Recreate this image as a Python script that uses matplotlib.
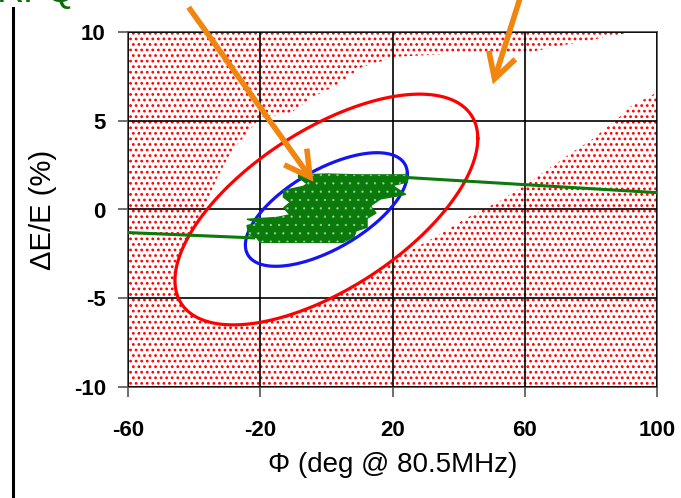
import numpy as np
import matplotlib
matplotlib.use('Agg')
import matplotlib.pyplot as plt
from matplotlib.patches import Rectangle, Polygon, FancyArrowPatch
from matplotlib.lines import Line2D

plt.rcParams['axes.unicode_minus'] = False

# axis ticks
phi_ticks = [-60, -20, 20, 60, 100]
dE_ticks = [-10, -5, 0, 5, 10]

# acceptance (separatrix) band: the white region outside the red ellipse
sep_upper_phi = [-40, -36, -33, -29, -24, -20, -11, -4.5, 3, 10.5, 21, 40, 60, 70, 90, 92]
sep_upper_dE = [-1.0, 0.5, 1.8, 3.2, 4.3, 5.2, 5.4, 6.3, 7.0, 8.0, 8.6, 8.8, 8.8, 9.2, 9.9, 10.0]
sep_lower_phi = [20.3, 25.5, 32.4, 42.7, 52.7, 61, 75, 80, 88, 92, 100]
sep_lower_dE = [-2.7, -2.3, -1.6, -0.45, 0.5, 1.5, 3.3, 3.9, 5.1, 5.8, 6.6]

# ellipses: [phi max, dE max, dE at phi max]
red_ellipse = [45.8, 6.5, 4.0]
blue_ellipse = [24.5, 3.2, 2.0]

# green beam core outline
core_phi = [-8.4, 0, 10, 24.5, 24.5, 20, 24, 16.4, 13.3, 15, 12.3, 12.3, 9, 8.3, 5,
            -20, -21, -23.5, -24, -20, -24, -15, -11, -12.9, -10.9, -13, -12.9, -7, -5.8, -8.4]
core_dE = [1.95, 2.0, 1.95, 1.95, 1.55, 1.35, 0.85, 0.6, 0.2, -0.2, -0.5, -1.0, -1.2, -1.55, -1.85,
           -1.85, -1.6, -1.4, -0.9, -0.75, -0.55, -0.45, -0.3, 0.1, 0.4, 0.7, 1.07, 1.3, 1.45, 1.8]
# green tails
tail_left_phi = [-60, -22]
tail_left_dE = [-1.3, -1.6]
tail_right_phi = [24.5, 100]
tail_right_dE = [1.8, 0.95]


def ellipse_xy(p):
    t = np.linspace(0, 2 * np.pi, 300)
    d = np.arccos(p[2] / p[1])
    return p[0] * np.cos(t), p[1] * np.cos(t - d)


W, H = 681, 498
fig = plt.figure(figsize=(W / 100, H / 100), dpi=100)
ax = fig.add_axes([128 / W, 1 - 387 / H, (657 - 128) / W, (387 - 32) / H])
ax.set_xlim(-60, 100)
ax.set_ylim(-10, 10)

# red particle background
bg = Rectangle((-60, -10), 160, 20, facecolor='white', edgecolor='red',
               hatch='...', lw=0, zorder=0.5)
if hasattr(bg, 'set_hatch_linewidth'):
    bg.set_hatch_linewidth(1.2)
ax.add_patch(bg)
band = list(zip(sep_lower_phi, sep_lower_dE)) + [(100, 10), (92, 10)] + \
    list(zip(sep_upper_phi[::-1], sep_upper_dE[::-1]))
ax.add_patch(Polygon(band, closed=True, facecolor='white', edgecolor='none', zorder=0.6))
ex, ey = ellipse_xy(red_ellipse)
ax.fill(ex, ey, color='white', zorder=0.6)

ax.grid(True, color='black', lw=1.2)
ax.set_axisbelow(False)
for gl in ax.get_xgridlines() + ax.get_ygridlines():
    gl.set_zorder(1)

ax.plot(ex, ey, color='red', lw=2.3, zorder=3)
bx, by = ellipse_xy(blue_ellipse)
ax.plot(bx, by, color='#1414F5', lw=2.3, zorder=3)

green = '#0A7A0A'
ax.plot(tail_left_phi, tail_left_dE, color=green, lw=2.2, zorder=4)
ax.plot(tail_right_phi, tail_right_dE, color=green, lw=2.2, zorder=4)
core = list(zip(core_phi, core_dE))
ax.add_patch(Polygon(core, closed=True, facecolor=green, edgecolor=green, lw=1, zorder=4))
# small gaps between macro-particles
gaps = Polygon(core, closed=True, facecolor='none', edgecolor='#9fd09f', hatch='..',
               lw=0, zorder=4.1)
if hasattr(gaps, 'set_hatch_linewidth'):
    gaps.set_hatch_linewidth(0.4)
ax.add_patch(gaps)

ax.set_xticks(phi_ticks)
ax.set_yticks(dE_ticks)
ax.tick_params(direction='out', length=7, width=1.2, color='#555555')
ax.tick_params(axis='x', pad=17)
ax.tick_params(axis='y', pad=9)
for lab in ax.get_xticklabels() + ax.get_yticklabels():
    lab.set_fontfamily('Liberation Sans')
    lab.set_fontweight('bold')
    lab.set_fontsize(16)
for s in ax.spines.values():
    s.set_color('#555555')
    s.set_linewidth(1.3)
ax.set_xlabel('\u03a6 (deg @ 80.5MHz)', fontsize=20, family='Liberation Sans', labelpad=8)
ax.set_ylabel('\u0394E/E (%)', fontsize=21, family='Liberation Sans', labelpad=12)


def fpt(x, y):
    return (x / W, 1 - y / H)


# orange arrows
for tail, tip in [((187, 5), (315, 184)), ((521, -5), (492, 87))]:
    fig.add_artist(FancyArrowPatch(fpt(*tail), fpt(*tip), transform=fig.transFigure,
                                   arrowstyle='->,head_length=0.9,head_width=0.5',
                                   mutation_scale=20, lw=4, color='#F0850F',
                                   capstyle='butt', joinstyle='miter'))

fig.text(-3 / W, 1 - 2 / H, 'RFQ', color='#0B6B0B', fontsize=27,
         family='Liberation Sans', va='baseline', ha='left')
fig.add_artist(Line2D([12.5 / W, 12.5 / W], [0, 1 - 8 / H], transform=fig.transFigure,
                      color='black', lw=2.2))

fig.savefig('out.png', dpi=100)
